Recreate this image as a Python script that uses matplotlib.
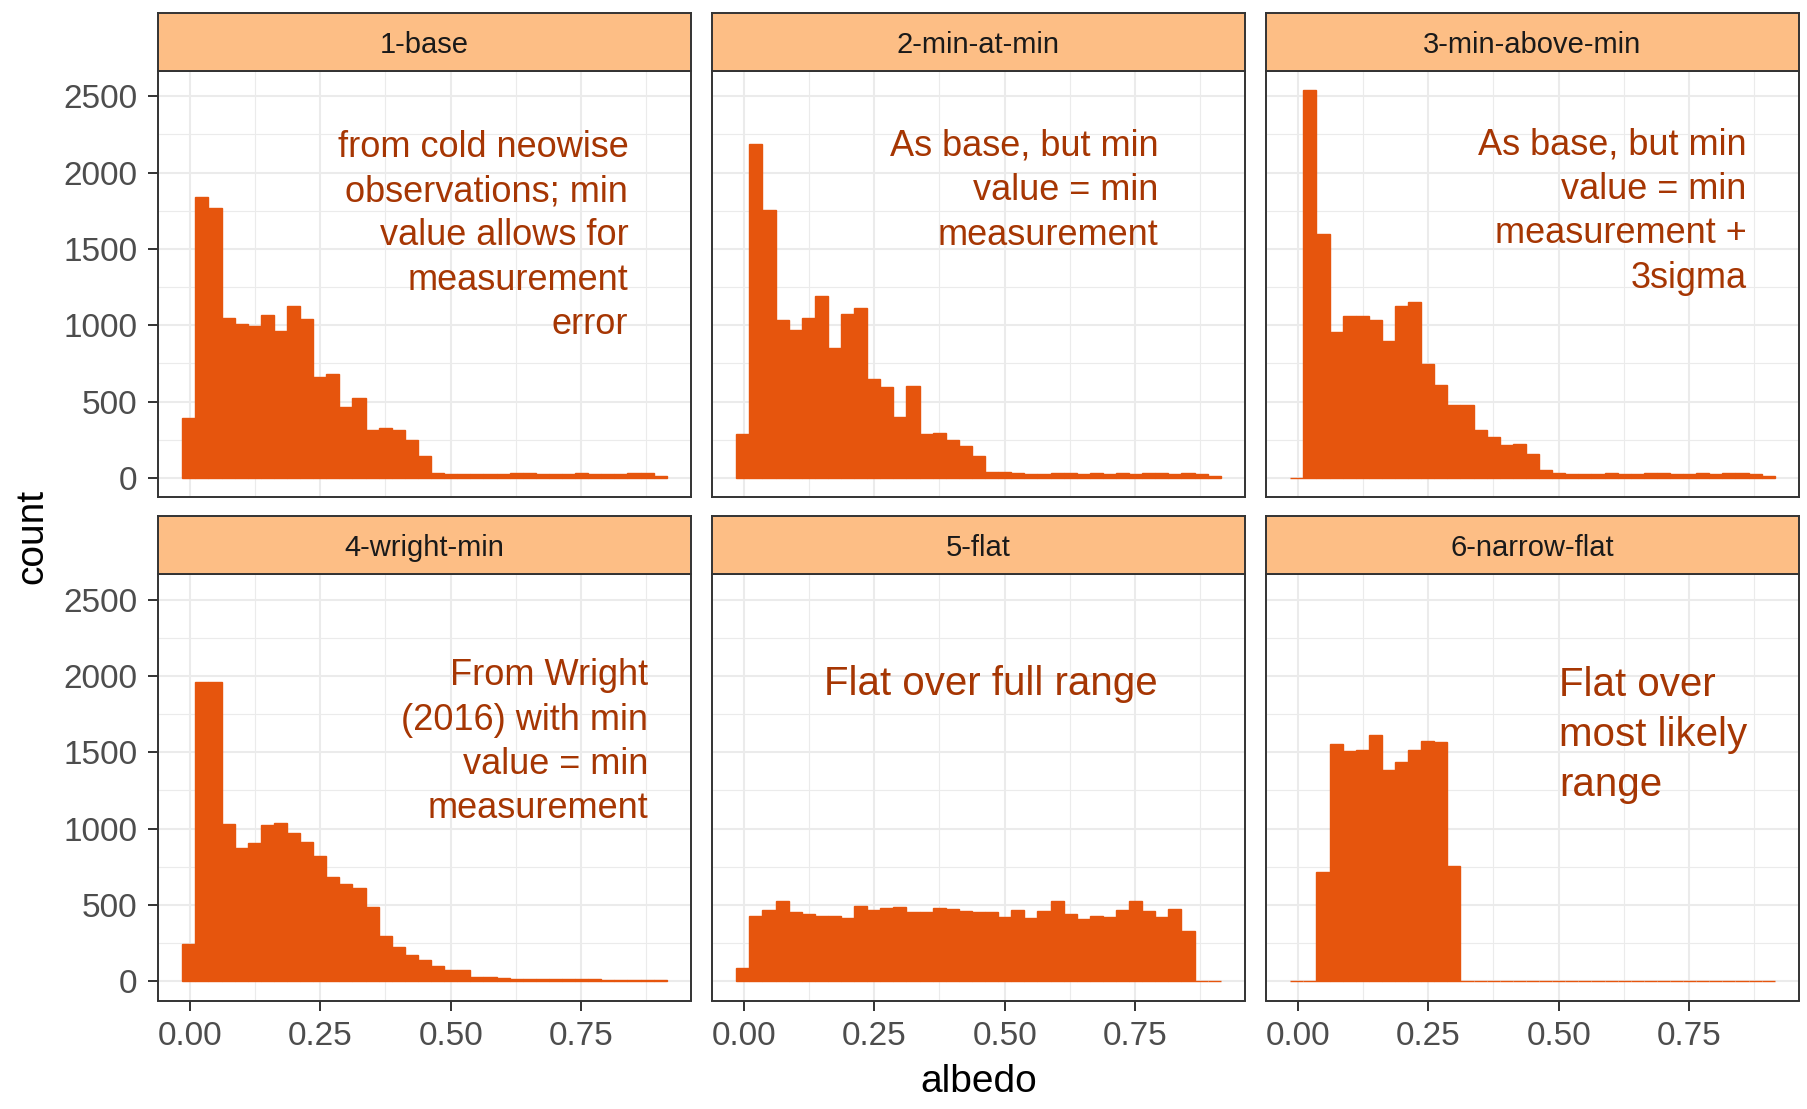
import matplotlib
matplotlib.use("Agg")
import matplotlib.pyplot as plt
import numpy as np

plt.rcParams['font.family'] = ['Liberation Sans', 'DejaVu Sans']

# ---------------- data ----------------
bin_start = -0.0146
bin_width = 0.0251

facets = ["1-base", "2-min-at-min", "3-min-above-min",
          "4-wright-min", "5-flat", "6-narrow-flat"]

counts_base = [391, 1841, 1767, 1050, 1011, 996, 1070, 961, 1128, 1041,
               663, 678, 467, 522, 315, 326, 311, 246, 141, 33,
               26, 28, 28, 27, 25, 33, 32, 25, 27, 28,
               30, 28, 26, 26, 33, 30, 15]
counts_min_at_min = [289, 2187, 1757, 1033, 967, 1048, 1193, 854, 1076, 1115,
                     650, 596, 398, 602, 285, 296, 250, 207, 141, 39,
                     35, 30, 28, 28, 32, 30, 27, 30, 27, 32,
                     28, 30, 30, 27, 30, 22, 11]
counts_min_above_min = [0, 2541, 1600, 957, 1061, 1061, 1037, 898, 1128, 1150,
                        748, 611, 476, 480, 311, 267, 213, 222, 154, 54,
                        33, 27, 27, 26, 30, 28, 25, 30, 30, 28,
                        28, 30, 28, 30, 31, 25, 12]
counts_wright_min = [246, 1957, 1963, 1028, 870, 904, 1022, 1037, 970, 909,
                     817, 680, 635, 613, 483, 298, 222, 174, 137, 102,
                     72, 70, 30, 26, 22, 17, 15, 14, 13, 12,
                     11, 11, 10, 9, 9, 8, 8]
counts_flat = [83, 430, 467, 526, 452, 443, 426, 428, 415, 489,
               463, 476, 487, 454, 450, 480, 470, 457, 454, 454,
               422, 467, 411, 457, 524, 441, 407, 424, 422, 465,
               528, 457, 422, 470, 330, 0, 0]
counts_narrow_flat = [0, 0, 717, 1554, 1507, 1517, 1611, 1385, 1433, 1515,
                      1576, 1567, 752, 0, 0, 0, 0, 0, 0, 0,
                      0, 0, 0, 0, 0, 0, 0, 0, 0, 0,
                      0, 0, 0, 0, 0, 0, 0]

all_counts = [counts_base, counts_min_at_min, counts_min_above_min,
              counts_wright_min, counts_flat, counts_narrow_flat]

notes = ["from cold neowise\nobservations; min\nvalue allows for\nmeasurement\nerror",
         "As base, but min\nvalue = min\nmeasurement",
         "As base, but min\nvalue = min\nmeasurement +\n3sigma",
         "From Wright\n(2016) with min\nvalue = min\nmeasurement",
         "Flat over full range",
         "Flat over\nmost likely\nrange"]
note_x = [0.8405, 0.795, 0.8595, 0.878, 0.474, 0.5013]
note_y = [1585, 1880, 1745, 1565, 1945, 1610]
note_ha = ["right", "right", "right", "right", "center", "left"]
note_size = [26, 26, 26, 26, 29, 29]
note_ls = [1.35, 1.35, 1.35, 1.35, 1.25, 1.4]

x_ticks = [0.0, 0.25, 0.5, 0.75]
x_ticklabels = ["0.00", "0.25", "0.50", "0.75"]
y_ticks = [0, 500, 1000, 1500, 2000, 2500]

# ---------------- style ----------------
BAR = "#E6550D"
NOTE = "#A63603"
STRIP = "#FDBE85"
GRID = "#EBEBEB"
DARK = "#333333"

W, H = 1807, 1109
fig = plt.figure(figsize=(W / 100, H / 100), dpi=100)

col_left = [158, 712, 1266]
pw = 533
row_top = [70.7, 574]
ph = 426.5
strip_h = 58

n_bins = len(counts_base)
edges = bin_start + bin_width * np.arange(n_bins + 1)
lo, hi = edges[0], edges[-1]
xpad = 0.05 * (hi - lo)
ymax = max(max(c) for c in all_counts)

for i, (name, counts) in enumerate(zip(facets, all_counts)):
    r, c = divmod(i, 3)
    l = col_left[c]
    t = row_top[r]
    ax = fig.add_axes([l / W, 1 - (t + ph) / H, pw / W, ph / H])
    ax.set_facecolor("white")
    ax.bar(edges[:-1], counts, width=bin_width, align="edge",
           color=BAR, edgecolor=BAR, linewidth=1.0, zorder=2)
    ax.set_xlim(lo - xpad, hi + xpad)
    ax.set_ylim(-0.05 * ymax, 1.05 * ymax)
    ax.set_xticks(x_ticks)
    ax.set_xticks([0.125, 0.375, 0.625, 0.875], minor=True)
    ax.set_yticks(y_ticks)
    ax.set_yticks([250, 750, 1250, 1750, 2250], minor=True)
    ax.grid(which="major", color=GRID, linewidth=1.5, zorder=0)
    ax.grid(which="minor", color=GRID, linewidth=0.8, zorder=0)
    ax.set_axisbelow(True)
    for sp in ax.spines.values():
        sp.set_color(DARK)
        sp.set_linewidth(1.4)
    ax.tick_params(which="minor", length=0)
    ax.tick_params(which="major", length=7.5, width=1.4, color=DARK,
                   labelsize=24, labelcolor="#4D4D4D")
    ax.tick_params(axis="y", pad=7.5)
    ax.tick_params(axis="x", pad=7)
    if c == 0:
        ax.set_yticklabels([str(v) for v in y_ticks])
    else:
        ax.tick_params(axis="y", left=False, labelleft=False)
    if r == 1:
        ax.set_xticklabels(x_ticklabels)
    else:
        ax.tick_params(axis="x", bottom=False, labelbottom=False)

    ax.text(note_x[i], note_y[i], notes[i], ha=note_ha[i], va="center",
            multialignment=note_ha[i],
            color=NOTE, fontsize=note_size[i], linespacing=note_ls[i], zorder=3)

    # strip
    sax = fig.add_axes([l / W, 1 - t / H, pw / W, strip_h / H])
    sax.set_facecolor(STRIP)
    sax.set_xticks([])
    sax.set_yticks([])
    for sp in sax.spines.values():
        sp.set_color(DARK)
        sp.set_linewidth(1.4)
    sax.text(0.5, 0.45, name, ha="center", va="center", fontsize=21,
             color="#1A1A1A", transform=sax.transAxes)

fig.text(978.5 / W, 1 - 1082.5 / H, "albedo", ha="center", va="center",
         fontsize=28, color="black")
fig.text(32 / W, 1 - 536 / H, "count", ha="center", va="center",
         rotation=90, fontsize=28, color="black")

fig.savefig("out.png", dpi=100, facecolor="white")
